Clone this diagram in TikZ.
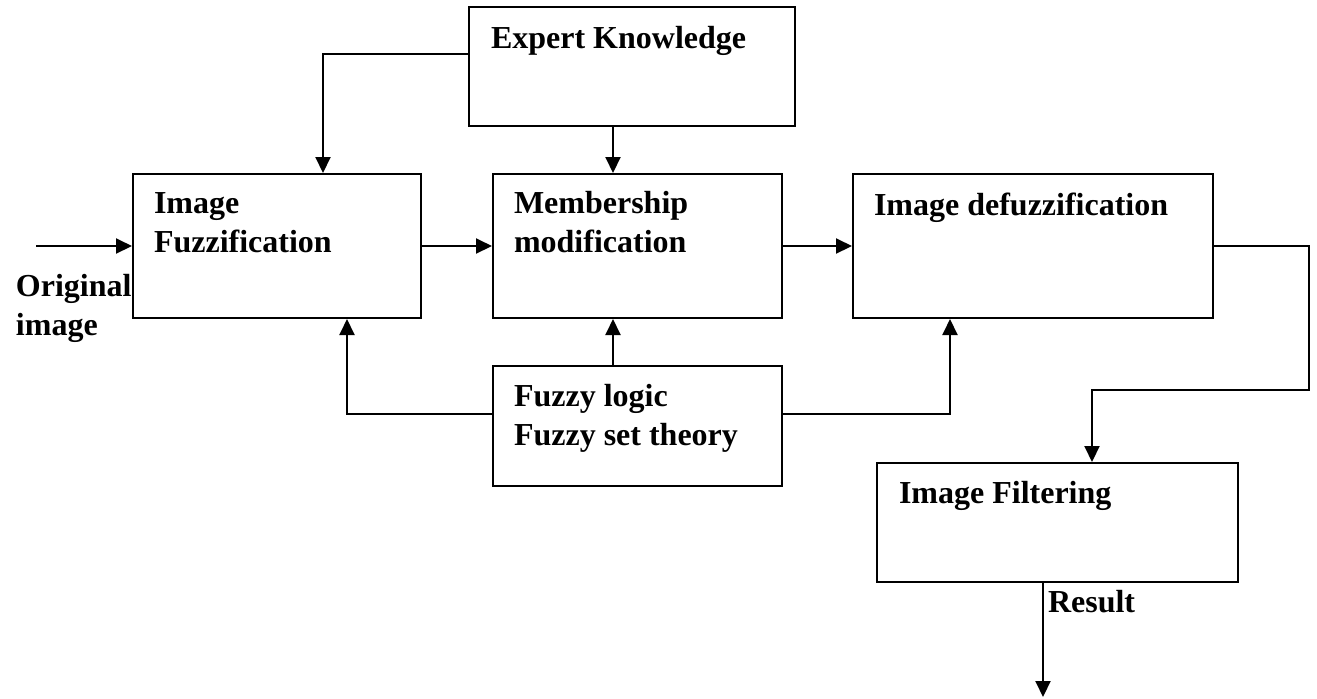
\documentclass[tikz,border=0pt]{standalone}
\usepackage{fontspec}
\setmainfont{Liberation Serif}
\usetikzlibrary{arrows.meta}
\begin{document}
\begin{tikzpicture}[x=0.5pt, y=-0.5pt, line width=1pt, >={Triangle[width=7.5pt,length=8pt]},
  box/.style={draw, rectangle, inner sep=0pt},
  txt/.style={font=\fontsize{16}{19.25}\selectfont\bfseries, inner sep=0pt, align=left, anchor=base west}]
\useasboundingbox (0,0) rectangle (1317,698);
\begin{scope}
\node[box, minimum width=163pt, minimum height=59.5pt] (expert) at (632,66.5) {};
\node[box, minimum width=144pt, minimum height=72pt] (fuzz) at (277,246) {};
\node[box, minimum width=144.5pt, minimum height=72pt] (memb) at (637.5,246) {};
\node[box, minimum width=180pt, minimum height=72pt] (defuzz) at (1033,246) {};
\node[box, minimum width=144.5pt, minimum height=60pt] (logic) at (637.5,426) {};
\node[box, minimum width=180.5pt, minimum height=59.5pt] (filter) at (1057.5,522.5) {};
%\node[box] () at (,) {};
\end{scope}
\begin{scope}
% two-line texts sit on the baseline of their last line
\node[txt] (expertT) at (490,48) {Expert Knowledge};
\node[txt] (fuzzT) at (153,252) {Image\\Fuzzification};
\node[txt] (membT) at (513,252) {Membership\\modification};
\node[txt] (defuzzT) at (873,215) {Image defuzzification};
\node[txt] (logicT) at (513,445) {Fuzzy logic\\Fuzzy set theory};
\node[txt] (filterT) at (898,503) {Image Filtering};
\node[txt] (result) at (1047,612) {Result};
\node[txt] (orig) at (15,335) {Original\\image};
\end{scope}
\coordinate (in) at (36,246);
\coordinate (bend) at (1309,390);
\coordinate (out) at (1043,697);
\begin{scope}
\draw[->] (in) -- (fuzz.west);
\draw[->] (fuzz.east) -- (memb.west);
\draw[->] (memb.east) -- (defuzz.west);
\draw[->] (expert.west |- 0,54) -| (fuzz.north -| 323,0);
\draw[->] (expert.south -| 613,0) -- (memb.north -| 613,0);
\draw[->] (logic.north -| 613,0) -- (memb.south -| 613,0);
\draw[->] (logic.west |- 0,414) -| (fuzz.south -| 347,0);
\draw[->] (logic.east |- 0,414) -| (defuzz.south -| 950,0);
\draw[->] (defuzz.east) -| (bend) -| (filter.north -| 1092,0);
\draw[->] (filter.south -| 1043,0) -- (out);
%\draw[->] () -- ();
\end{scope}
\end{tikzpicture}
\end{document}
